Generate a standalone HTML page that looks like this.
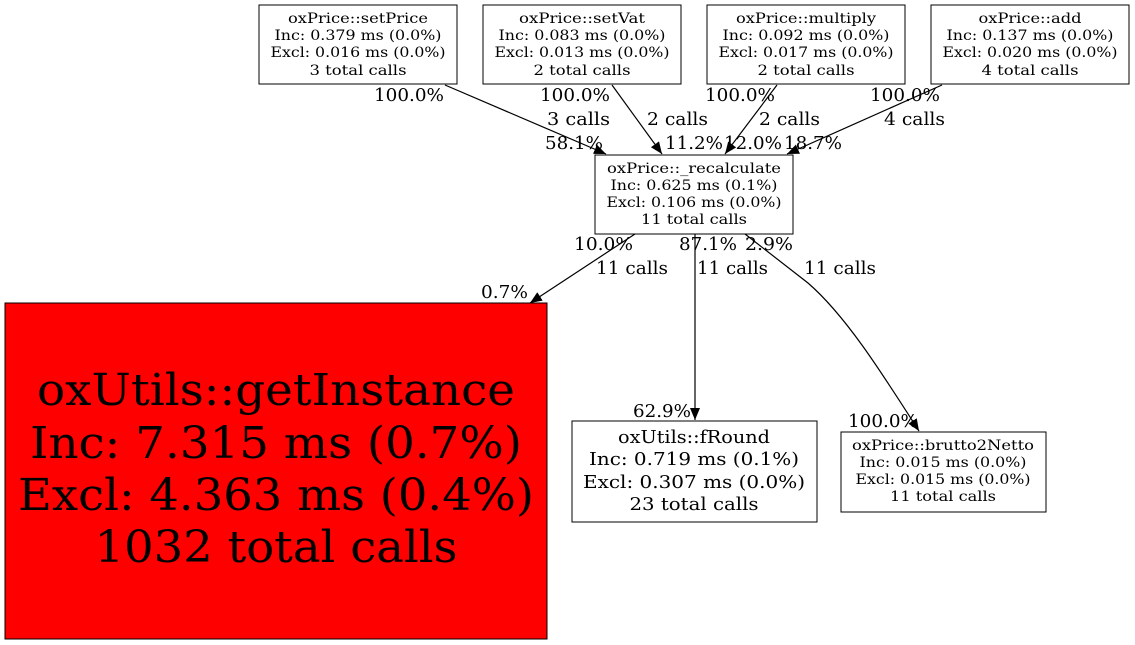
<!DOCTYPE html>
<html><head><meta charset="utf-8"><style>
html,body{margin:0;padding:0;background:#fff;width:1135px;height:645px;overflow:hidden}
svg{display:block}
text{font-family:"DejaVu Serif","Liberation Serif",serif;fill:#000}
.n{font-size:14px;text-anchor:middle}
.l{font-size:18px}
</style></head><body>
<svg width="1135" height="645" viewBox="0 0 1135 645" xmlns="http://www.w3.org/2000/svg">
<defs>
<marker id="a" markerWidth="12" markerHeight="10" refX="12" refY="5" orient="auto" markerUnits="userSpaceOnUse">
<path d="M0,0 L12,5 L0,10 z" fill="#000"/>
</marker>
</defs>
<g fill="#fff" stroke="#000" stroke-width="1">
<rect x="259" y="5" width="198" height="79"/>
<rect x="483" y="5" width="198" height="79"/>
<rect x="707" y="5" width="198" height="79"/>
<rect x="931" y="5" width="198" height="79"/>
<rect x="595" y="155" width="198" height="79"/>
<rect x="5" y="303" width="542" height="336" fill="#ff0000"/>
<rect x="572" y="421" width="245" height="101"/>
<rect x="841" y="432" width="205" height="80"/>
</g>
<g stroke="#000" stroke-width="1.2" fill="none">
<path d="M445,85 L606,154" marker-end="url(#a)"/>
<path d="M612,85 L662,154" marker-end="url(#a)"/>
<path d="M777,85 L725,154" marker-end="url(#a)"/>
<path d="M942,85 L787,154" marker-end="url(#a)"/>
<path d="M635,234 L530,303" marker-end="url(#a)"/>
<path d="M695,234 L695,420" marker-end="url(#a)"/>
<path d="M745,234 L808,283 C845,315 880,370 919,431" marker-end="url(#a)"/>
</g>
<g class="n">
<text x="358" y="23" textLength="140" lengthAdjust="spacingAndGlyphs">oxPrice::setPrice</text>
<text x="358" y="40" textLength="167" lengthAdjust="spacingAndGlyphs">Inc: 0.379 ms (0.0%)</text>
<text x="358" y="57" textLength="175" lengthAdjust="spacingAndGlyphs">Excl: 0.016 ms (0.0%)</text>
<text x="358" y="75" textLength="97" lengthAdjust="spacingAndGlyphs">3 total calls</text>

<text x="582" y="23" textLength="126" lengthAdjust="spacingAndGlyphs">oxPrice::setVat</text>
<text x="582" y="40" textLength="167" lengthAdjust="spacingAndGlyphs">Inc: 0.083 ms (0.0%)</text>
<text x="582" y="57" textLength="175" lengthAdjust="spacingAndGlyphs">Excl: 0.013 ms (0.0%)</text>
<text x="582" y="75" textLength="97" lengthAdjust="spacingAndGlyphs">2 total calls</text>

<text x="806" y="23" textLength="140" lengthAdjust="spacingAndGlyphs">oxPrice::multiply</text>
<text x="806" y="40" textLength="167" lengthAdjust="spacingAndGlyphs">Inc: 0.092 ms (0.0%)</text>
<text x="806" y="57" textLength="175" lengthAdjust="spacingAndGlyphs">Excl: 0.017 ms (0.0%)</text>
<text x="806" y="75" textLength="97" lengthAdjust="spacingAndGlyphs">2 total calls</text>

<text x="1030" y="23" textLength="103" lengthAdjust="spacingAndGlyphs">oxPrice::add</text>
<text x="1030" y="40" textLength="167" lengthAdjust="spacingAndGlyphs">Inc: 0.137 ms (0.0%)</text>
<text x="1030" y="57" textLength="175" lengthAdjust="spacingAndGlyphs">Excl: 0.020 ms (0.0%)</text>
<text x="1030" y="75" textLength="97" lengthAdjust="spacingAndGlyphs">4 total calls</text>

<text x="694" y="173" textLength="174" lengthAdjust="spacingAndGlyphs">oxPrice::_recalculate</text>
<text x="694" y="190" textLength="167" lengthAdjust="spacingAndGlyphs">Inc: 0.625 ms (0.1%)</text>
<text x="694" y="207" textLength="175" lengthAdjust="spacingAndGlyphs">Excl: 0.106 ms (0.0%)</text>
<text x="694" y="224" textLength="106" lengthAdjust="spacingAndGlyphs">11 total calls</text>

<text x="943" y="450" textLength="182" lengthAdjust="spacingAndGlyphs">oxPrice::brutto2Netto</text>
<text x="943" y="467" textLength="167" lengthAdjust="spacingAndGlyphs">Inc: 0.015 ms (0.0%)</text>
<text x="943" y="484" textLength="175" lengthAdjust="spacingAndGlyphs">Excl: 0.015 ms (0.0%)</text>
<text x="943" y="501" textLength="106" lengthAdjust="spacingAndGlyphs">11 total calls</text>

<text x="694" y="443" style="font-size:18px" textLength="152" lengthAdjust="spacingAndGlyphs">oxUtils::fRound</text>
<text x="694" y="465" style="font-size:18px" textLength="210" lengthAdjust="spacingAndGlyphs">Inc: 0.719 ms (0.1%)</text>
<text x="694" y="488" style="font-size:18px" textLength="222" lengthAdjust="spacingAndGlyphs">Excl: 0.307 ms (0.0%)</text>
<text x="694" y="510" style="font-size:18px" textLength="129" lengthAdjust="spacingAndGlyphs">23 total calls</text>

<text x="276" y="405" style="font-size:44px" textLength="478" lengthAdjust="spacingAndGlyphs">oxUtils::getInstance</text>
<text x="276" y="458" style="font-size:44px" textLength="492" lengthAdjust="spacingAndGlyphs">Inc: 7.315 ms (0.7%)</text>
<text x="276" y="510" style="font-size:44px" textLength="516" lengthAdjust="spacingAndGlyphs">Excl: 4.363 ms (0.4%)</text>
<text x="276" y="562" style="font-size:44px" textLength="363" lengthAdjust="spacingAndGlyphs">1032 total calls</text>
</g>
<g class="l">
<text x="374" y="101" textLength="70" lengthAdjust="spacingAndGlyphs">100.0%</text>
<text x="547" y="125" textLength="63" lengthAdjust="spacingAndGlyphs">3 calls</text>
<text x="545" y="149" textLength="58" lengthAdjust="spacingAndGlyphs">58.1%</text>
<text x="540" y="101" textLength="70" lengthAdjust="spacingAndGlyphs">100.0%</text>
<text x="647" y="125" textLength="61" lengthAdjust="spacingAndGlyphs">2 calls</text>
<text x="665" y="149" textLength="58" lengthAdjust="spacingAndGlyphs">11.2%</text>
<text x="724" y="149" textLength="58" lengthAdjust="spacingAndGlyphs">12.0%</text>
<text x="705" y="101" textLength="70" lengthAdjust="spacingAndGlyphs">100.0%</text>
<text x="759" y="125" textLength="61" lengthAdjust="spacingAndGlyphs">2 calls</text>
<text x="784" y="149" textLength="58" lengthAdjust="spacingAndGlyphs">18.7%</text>
<text x="870" y="101" textLength="70" lengthAdjust="spacingAndGlyphs">100.0%</text>
<text x="884" y="125" textLength="61" lengthAdjust="spacingAndGlyphs">4 calls</text>
<text x="574" y="250" textLength="59" lengthAdjust="spacingAndGlyphs">10.0%</text>
<text x="596" y="274" textLength="72" lengthAdjust="spacingAndGlyphs">11 calls</text>
<text x="481" y="298" textLength="47" lengthAdjust="spacingAndGlyphs">0.7%</text>
<text x="679" y="250" textLength="58" lengthAdjust="spacingAndGlyphs">87.1%</text>
<text x="697" y="274" textLength="71" lengthAdjust="spacingAndGlyphs">11 calls</text>
<text x="745" y="250" textLength="48" lengthAdjust="spacingAndGlyphs">2.9%</text>
<text x="804" y="274" textLength="72" lengthAdjust="spacingAndGlyphs">11 calls</text>
<text x="633" y="417" textLength="58" lengthAdjust="spacingAndGlyphs">62.9%</text>
<text x="848" y="427" textLength="70" lengthAdjust="spacingAndGlyphs">100.0%</text>
</g>
</svg>
</body></html>
